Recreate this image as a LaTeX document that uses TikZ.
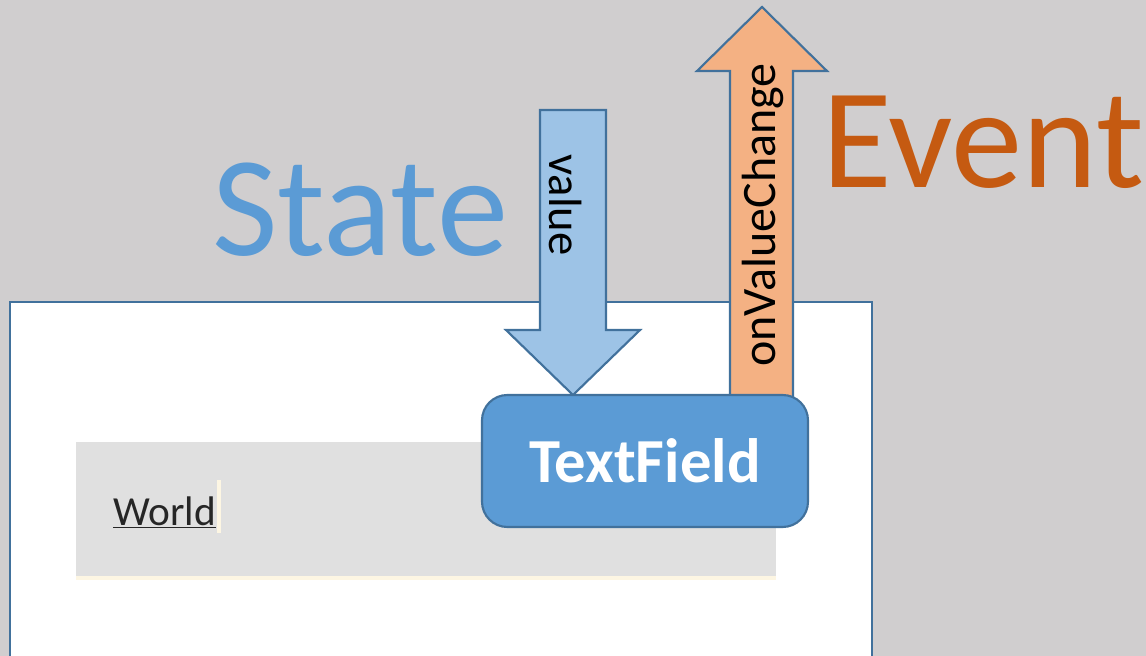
\documentclass[tikz,border=0pt]{standalone}
\usepackage{fontspec}
\setmainfont{Carlito}
\definecolor{bggray}{HTML}{D0CECF}
\definecolor{edgeblue}{HTML}{41719C}
\definecolor{fieldgray}{HTML}{E0E0E0}
\definecolor{cursorcream}{HTML}{FDF6E3}
\definecolor{valueblue}{HTML}{9DC3E6}
\definecolor{eventorange}{HTML}{F4B183}
\definecolor{tfblue}{HTML}{5B9BD5}
\definecolor{eventbrown}{HTML}{C55A11}
\definecolor{worldgray}{HTML}{262626}
\newcommand{\fsz}[1]{\fontsize{#1}{#1}\selectfont}
\begin{document}
\begin{tikzpicture}[x=0.75pt,y=-0.75pt,line join=miter,
		outline/.style={draw=edgeblue,line width=1.6pt},
		tfbox/.style={outline,fill=tfblue,rounded corners=19pt,minimum width=244.5pt,minimum height=99pt,text=white,font=\fsz{47}\bfseries},
		big/.style={inner sep=0pt,anchor=base west,font=\fsz{107}}]
	\clip (0,0) rectangle (1146,656);
	\fill[bggray] (0,0) rectangle (1146,656);
	% the window with its input field
	\draw[outline,fill=white] (10,302) rectangle (872,690);
	\fill[fieldgray] (76,442) rectangle (776,576);
	\fill[cursorcream] (76,576) rectangle (776,580);
	\node[inner sep=0pt,anchor=base west,text=worldgray,font=\fsz{31}] (world) at (113,525) {\underline{World}};
	\fill[cursorcream] (217,480) rectangle (221,533);
	% block arrows in and out
	\draw[outline,fill=eventorange] (730,400)--(730,71)--(697,71)--(762,7)--(827,71)--(793,71)--(793,400);
	\draw[outline,fill=valueblue] (540,110)--(606,110)--(606,330)--(640,330)--(573,395)--(506,330)--(540,330)--cycle;
	\node[tfbox] (tf) at (645,461) {TextField};
	\node[rotate=-90,font=\fsz{35}] (vlabel) at (566,205) {value};
	\node[rotate=90,font=\fsz{36}] (elabel) at (763,215) {onValueChange};
	\node[big,text=tfblue] (state) at (212,255) {State};
	\node[big,text=eventbrown] (event) at (822,188) {Event};
\end{tikzpicture}
\end{document}
